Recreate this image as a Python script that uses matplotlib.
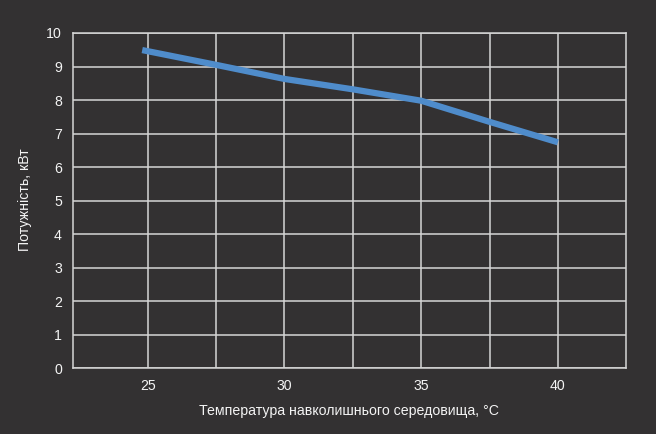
import numpy as np
import matplotlib
matplotlib.use('Agg')
from matplotlib import pyplot as plt

# data
temps = [24.8, 27.5, 30, 32.5, 35, 37.5, 40]
power = [9.49, 9.05, 8.63, 8.32, 7.98, 7.35, 6.74]

x_ticks = [25, 30, 35, 40]
y_ticks = [0, 1, 2, 3, 4, 5, 6, 7, 8, 9, 10]
x_grid = [25, 27.5, 30, 32.5, 35, 37.5, 40]

x_label = 'Температура навколишнього середовища, °C'
y_label = 'Потужність, кВт'

bg = '#333132'
fg = '#f4f4f4'
plt.rcParams['font.family'] = ['Liberation Sans', 'DejaVu Sans']

fig = plt.figure(figsize=(6.56, 4.34), dpi=100, facecolor=bg)
ax = fig.add_axes([0.1113, 0.1514, 0.8434, 0.7726], facecolor=bg)

ax.set_xlim(22.27, 42.5)
ax.set_ylim(0, 10)

for g in x_grid:
    ax.axvline(g, color='#d6d6d6', lw=1.1, zorder=1)
for g in y_ticks:
    ax.axhline(g, color='#d6d6d6', lw=1.1, zorder=1)

ax.plot(temps, power, color='#4f8ccb', lw=4.5, solid_capstyle='butt',
        solid_joinstyle='round', zorder=3)

ax.set_xticks(x_ticks)
ax.set_yticks(y_ticks)
ax.tick_params(length=0, colors=fg, labelsize=10.2, pad=8)
for s in ax.spines.values():
    s.set_color('#d6d6d6')
    s.set_linewidth(1.1)

fig.text(349 / 656, 1 - 411 / 434, x_label, color=fg, fontsize=10.2,
         ha='center', va='center')
fig.text(25 / 656, 1 - 200 / 434, y_label, color=fg, fontsize=10.2,
         ha='center', va='center', rotation=90)

fig.savefig('out.png', dpi=100, facecolor=bg)
